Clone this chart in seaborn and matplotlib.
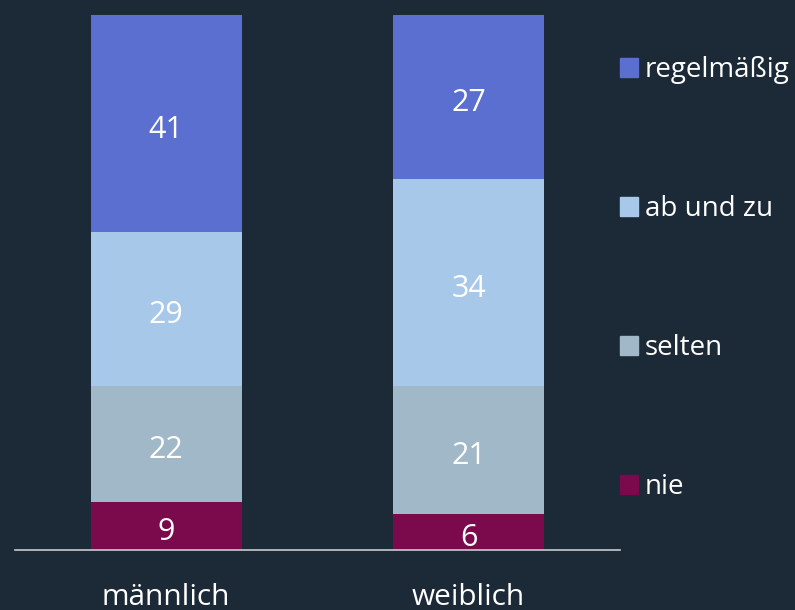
import matplotlib
matplotlib.use("Agg")
import matplotlib.pyplot as plt
from matplotlib.patches import Patch
import pandas as pd
import seaborn as sns

# data
gruppen = ["männlich", "weiblich"]
stufen = ["nie", "selten", "ab und zu", "regelmäßig"]  # bottom -> top
nie = [9, 6]
selten = [22, 21]
ab_und_zu = [29, 34]
regelmaessig = [41, 27]

farben = {"nie": "#7b0a4d", "selten": "#a1b8c9",
          "ab und zu": "#a8c8ea", "regelmäßig": "#5b6fd0"}
BG = "#1c2937"

sns.set_theme(style="white")
plt.rcParams["font.family"] = ["Open Sans", "DejaVu Sans"]

df = pd.DataFrame({"Gruppe": gruppen, "nie": nie, "selten": selten,
                   "ab und zu": ab_und_zu, "regelmäßig": regelmaessig})
werte = df[stufen]
anteil = werte.div(werte.sum(axis=1), axis=0) * 100
kum = anteil.cumsum(axis=1)

fig = plt.figure(figsize=(7.95, 6.1), dpi=100, facecolor=BG)
ax = fig.add_axes([15 / 795, 1 - 550 / 610, 605 / 795, 535 / 610])
ax.set_facecolor(BG)

# overlapping bars, tallest first
for s in reversed(stufen):
    sns.barplot(x=df["Gruppe"], y=kum[s], color=farben[s], width=0.5,
                saturation=1, linewidth=0, ax=ax, order=gruppen)

for i in range(len(gruppen)):
    unten = 0
    for s in stufen:
        h = anteil.loc[i, s]
        ax.annotate(str(werte.loc[i, s]), (i, unten + h / 2), xytext=(0, -2),
                    textcoords="offset points", ha="center", va="center_baseline",
                    color="white", fontsize=22)
        unten += h

ax.set_xlim(-0.5, 1.5)
ax.set_ylim(0, 100)
ax.set_xlabel("")
ax.set_ylabel("")
ax.set_yticks([])
for side in ["top", "right", "left"]:
    ax.spines[side].set_visible(False)
ax.spines["bottom"].set_color("#c8ccd0")
ax.spines["bottom"].set_linewidth(1.2)
ax.tick_params(axis="x", length=0, pad=24, labelsize=21.5, labelcolor="white")

handles = [Patch(color=farben[s], label=s) for s in reversed(stufen)]
fig.legend(handles=handles, loc="upper left", bbox_to_anchor=(620 / 795, 1 - 56 / 610),
           frameon=False, fontsize=20, labelcolor="white", handlelength=0.65,
           handleheight=0.65, handletextpad=0.25, labelspacing=4.0, borderpad=0,
           borderaxespad=0)

fig.savefig("out.png", dpi=100, facecolor=BG)
